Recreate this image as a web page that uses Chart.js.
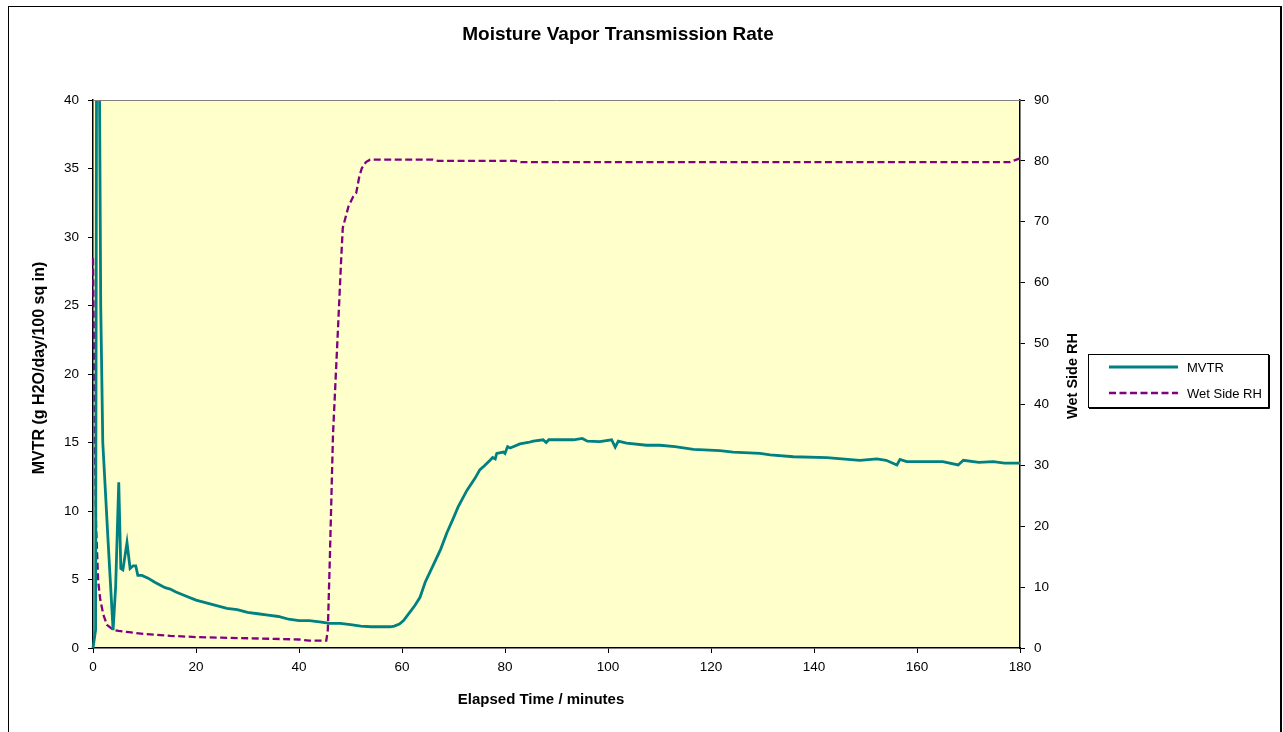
<!DOCTYPE html>
<html>
<head>
<meta charset="utf-8">
<title>Moisture Vapor Transmission Rate</title>
<script src="https://cdn.jsdelivr.net/npm/chart.js@4/dist/chart.umd.min.js"></script>
<style>
  html, body { margin: 0; padding: 0; background: #fff; }
  canvas { display: block; }
</style>
</head>
<body>
<canvas id="MvtrChart" width="1283" height="732"></canvas>
<script>
// elapsed time (minutes) and MVTR (g H2O/day/100 sq in)
const mvtrTime = [0, 0.5, 0.7, 1.2, 1.5, 1.9, 2.9, 3.9, 4.4, 5.0, 5.4, 5.8, 6.6, 7.2, 7.8, 8.3, 8.7, 9.5, 10.7,
  12, 13, 14, 15, 16, 18, 20, 22, 24, 26, 28, 30, 32, 34, 36, 38, 40, 42, 44, 46, 48, 50, 52, 54, 56, 57.7,
  58.5, 59.5, 60.3, 61.5, 62.5, 63.5, 64.5, 66, 67.5, 68.7, 70, 70.9, 72.6, 74.2, 75.1, 76, 77.1, 77.6, 78.1,
  78.4, 79.7, 80, 80.5, 81, 82.9, 84.5, 85.5, 87.4, 88, 88.5, 90.7, 93.3, 95, 96, 98.4, 100.7, 101.4, 102,
  103.6, 107.5, 110.1, 113, 116.6, 121.7, 124.3, 129.5, 131.5, 136, 142.5, 148.9, 152.2, 154, 156.1, 156.7,
  158, 161.8, 165, 168, 169, 172, 174.8, 177, 180];
const mvtrValue = [0, 1.3, 45, 45, 25, 15, 8, 1.3, 4.5, 12.1, 5.8, 5.7, 7.7, 5.8, 6.0, 6.0, 5.3, 5.3, 5.1,
  4.8, 4.6, 4.4, 4.3, 4.1, 3.8, 3.5, 3.3, 3.1, 2.9, 2.8, 2.6, 2.5, 2.4, 2.3, 2.1, 2.0, 2.0, 1.9, 1.8, 1.8, 1.7,
  1.6, 1.55, 1.55, 1.55, 1.6, 1.75, 2.0, 2.6, 3.1, 3.7, 4.8, 6.0, 7.2, 8.4, 9.5, 10.3, 11.5, 12.4, 13.0, 13.3,
  13.7, 13.9, 13.8, 14.2, 14.3, 14.2, 14.7, 14.6, 14.9, 15.0, 15.1, 15.2, 15.0, 15.2, 15.2, 15.2, 15.3, 15.1,
  15.06, 15.2, 14.66, 15.1, 14.95, 14.8, 14.8, 14.7, 14.5, 14.4, 14.3, 14.2, 14.1, 13.96, 13.9, 13.7, 13.8,
  13.7, 13.36, 13.77, 13.6, 13.6, 13.6, 13.36, 13.7, 13.55, 13.6, 13.5, 13.5];

// wet side relative humidity (%)
const rhTime = [0, 0.2, 0.4, 0.6, 1.0, 1.4, 2.0, 2.7, 3.9, 5, 7, 10, 15, 20, 25, 30, 35, 40, 42, 45.3, 45.6,
  46.0, 46.6, 47.6, 48.2, 48.5, 49.6, 50.5, 51.1, 51.7, 52.2, 53, 53.8, 66, 67, 82, 83, 178, 180];
const rhValue = [64, 48, 32, 20, 11, 8, 5.5, 3.8, 3.0, 2.8, 2.6, 2.3, 2.0, 1.8, 1.7, 1.6, 1.5, 1.4, 1.2, 1.2, 3,
  15, 35, 53, 64, 69, 72.5, 74.1, 74.7, 77.4, 78.8, 79.8, 80.2, 80.2, 80.0, 80.0, 79.8, 79.8, 80.4];

const xTicks = [0, 20, 40, 60, 80, 100, 120, 140, 160, 180];
const leftTicks = [0, 5, 10, 15, 20, 25, 30, 35, 40];
const rightTicks = [0, 10, 20, 30, 40, 50, 60, 70, 80, 90];

const FONT = '"Liberation Sans", Arial, sans-serif';

const toPoints = (xs, ys) => xs.map((x, i) => ({ x: x, y: ys[i] }));

// background, frame, titles and legend box
const decorations = {
    id: 'decorations',
    beforeDraw(chart) {
        const { ctx, chartArea: a } = chart;
        ctx.save();
        ctx.fillStyle = '#FFFFCC';
        ctx.fillRect(a.left, a.top, a.right - a.left, a.bottom - a.top);
        ctx.strokeStyle = '#000';
        ctx.lineWidth = 1;
        ctx.strokeRect(8.5, 6.5, 1272, 740);
        ctx.beginPath();
        ctx.moveTo(1281.5, 6);
        ctx.lineTo(1281.5, 732);
        ctx.stroke();
        ctx.restore();
    },
    afterDraw(chart) {
        const { ctx, chartArea: a } = chart;
        ctx.save();
        // grey top edge of plot area
        ctx.strokeStyle = '#808080';
        ctx.lineWidth = 1;
        ctx.beginPath();
        ctx.moveTo(a.left, a.top + 0.5);
        ctx.lineTo(a.right, a.top + 0.5);
        ctx.stroke();

        ctx.fillStyle = '#000';
        ctx.textAlign = 'center';
        ctx.textBaseline = 'middle';
        ctx.font = 'bold 19px ' + FONT;
        ctx.fillText('Moisture Vapor Transmission Rate', 618, 35);

        ctx.font = 'bold 15px ' + FONT;
        ctx.fillText('Elapsed Time / minutes', 541, 700);

        ctx.save();
        ctx.font = 'bold 16px ' + FONT;
        ctx.translate(40, 368);
        ctx.rotate(-Math.PI / 2);
        ctx.fillText('MVTR (g H2O/day/100 sq in)', 0, 0);
        ctx.restore();

        ctx.font = 'bold 14.5px ' + FONT;
        ctx.translate(1073, 376);
        ctx.rotate(-Math.PI / 2);
        ctx.fillText('Wet Side RH', 0, 0);
        ctx.restore();

        // legend
        ctx.save();
        ctx.strokeStyle = '#000';
        ctx.lineWidth = 1;
        ctx.strokeRect(1088.5, 354.5, 180, 53);
        ctx.beginPath();
        ctx.moveTo(1269.5, 355);
        ctx.lineTo(1269.5, 408.5);
        ctx.lineTo(1089, 408.5);
        ctx.stroke();
        const rows = [367, 393];
        chart.data.datasets.forEach((ds, i) => {
            ctx.strokeStyle = ds.borderColor;
            ctx.lineWidth = ds.borderWidth;
            ctx.setLineDash(ds.borderDash || []);
            ctx.beginPath();
            ctx.moveTo(1109, rows[i]);
            ctx.lineTo(1178, rows[i]);
            ctx.stroke();
            ctx.setLineDash([]);
            ctx.fillStyle = '#000';
            ctx.font = '13px ' + FONT;
            ctx.textAlign = 'left';
            ctx.textBaseline = 'middle';
            ctx.fillText(ds.label, 1187, rows[i] + 1);
        });
        ctx.restore();
    }
};

new Chart(document.getElementById('MvtrChart').getContext('2d'), {
    type: 'line',
    data: {
        datasets: [{
            label: 'MVTR',
            data: toPoints(mvtrTime, mvtrValue),
            yAxisID: 'y',
            borderColor: '#008080',
            borderWidth: 2.8,
            pointRadius: 0,
            tension: 0,
            clip: { left: 5, right: 5, top: 0, bottom: 5 }
        }, {
            label: 'Wet Side RH',
            data: toPoints(rhTime, rhValue),
            yAxisID: 'y1',
            borderColor: '#800080',
            borderWidth: 2.3,
            borderDash: [7, 3.5],
            pointRadius: 0,
            tension: 0,
            clip: { left: 5, right: 5, top: 0, bottom: 5 }
        }]
    },
    options: {
        responsive: false,
        animation: false,
        layout: {
            padding: { top: 100, left: 0, right: 193, bottom: 0 }
        },
        plugins: {
            legend: { display: false },
            title: { display: false },
            tooltip: { enabled: false }
        },
        scales: {
            x: {
                type: 'linear',
                min: 0,
                max: 180,
                afterBuildTicks: (s) => { s.ticks = xTicks.map(v => ({ value: v })); },
                afterFit: (s) => { s.height = 84; },
                grid: { drawOnChartArea: false, tickLength: 5, color: '#000' },
                border: { color: '#000', width: 1.5 },
                ticks: { color: '#000', padding: 6, maxRotation: 0, font: { family: FONT, size: 13.5 } }
            },
            y: {
                position: 'left',
                min: 0,
                max: 40,
                afterBuildTicks: (s) => { s.ticks = leftTicks.map(v => ({ value: v })); },
                afterFit: (s) => { s.width = 93; },
                grid: { drawOnChartArea: false, tickLength: 5, color: '#000' },
                border: { color: '#000', width: 1.5 },
                ticks: { color: '#000', padding: 9, font: { family: FONT, size: 13.5 } }
            },
            y1: {
                position: 'right',
                min: 0,
                max: 90,
                afterBuildTicks: (s) => { s.ticks = rightTicks.map(v => ({ value: v })); },
                afterFit: (s) => { s.width = 70; },
                grid: { drawOnChartArea: false, tickLength: 5, color: '#000' },
                border: { color: '#000', width: 1.5 },
                ticks: { color: '#000', padding: 9, font: { family: FONT, size: 13.5 } }
            }
        }
    },
    plugins: [decorations]
});
</script>
</body>
</html>
